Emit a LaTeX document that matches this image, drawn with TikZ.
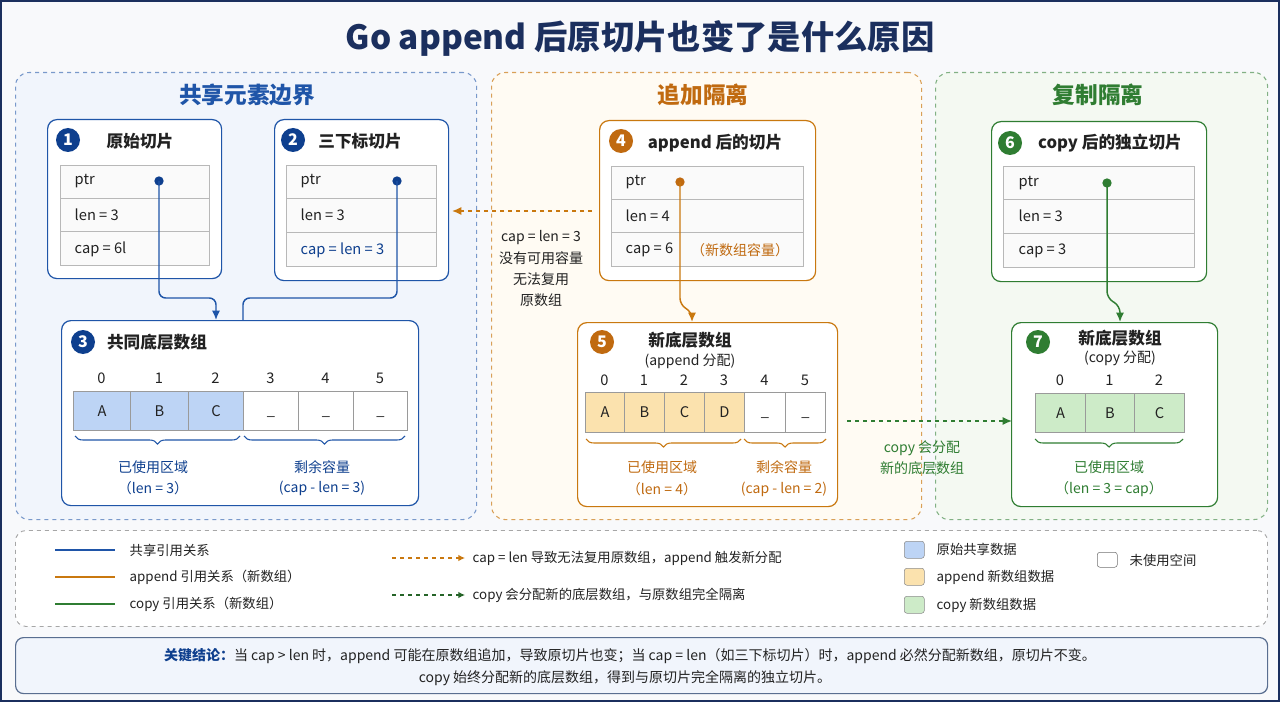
\documentclass[tikz,border=0pt]{standalone}
\usepackage{fontspec}
\setmainfont{Noto Sans CJK SC}
\usetikzlibrary{decorations.pathreplacing,arrows.meta}
\definecolor{bg}{HTML}{F8F9FB}
\definecolor{navy}{HTML}{1B2F5E}
\definecolor{bl}{HTML}{1F55A8}
\definecolor{bld}{HTML}{0E3F8E}
\definecolor{blf}{HTML}{F1F5FC}
\definecolor{blc}{HTML}{BDD4F5}
\definecolor{or}{HTML}{C9780F}
\definecolor{ord}{HTML}{C06A10}
\definecolor{orf}{HTML}{FFFBF3}
\definecolor{orc}{HTML}{FBE2AE}
\definecolor{gr}{HTML}{2F7D32}
\definecolor{grf}{HTML}{F4F9F2}
\definecolor{grc}{HTML}{CDEBC8}
\definecolor{txt}{HTML}{222222}
\definecolor{cellb}{HTML}{9A9A9A}
\newcommand\pbox[6]{\node[#6,inner sep=0pt,anchor=north west,minimum width={(#4-#2)*0.75pt},minimum height={(#5-#3)*0.75pt}] (#1) at (#2,#3) {};}
\tikzset{
 panel/.style={draw=#1,dashed,line width=0.8pt,rounded corners=10pt},
 card/.style={draw=#1,line width=0.9pt,rounded corners=7pt,fill=white},
 row/.style={draw=cellb!70,fill=black!2,line width=0.7pt},
 cell/.style={draw=cellb,line width=0.8pt},
 num/.style={circle,fill=#1,text=white,font=\bfseries\fontsize{12}{12}\selectfont,inner sep=0pt,minimum size=18pt},
 ttl/.style={font=\bfseries\fontsize{12.5}{14}\selectfont,text=txt},
 ptitle/.style={font=\bfseries\fontsize{17}{18}\selectfont,text=#1},
 t/.style={font=\fontsize{11}{12}\selectfont,text=txt,anchor=west},
 c/.style={font=\fontsize{11}{13}\selectfont,text=txt},
 s/.style={font=\fontsize{10.5}{12}\selectfont,text=#1},
 dot/.style={circle,fill=#1,inner sep=0pt,minimum size=7pt},
 brc/.style={draw=#1,line width=0.8pt,decorate,decoration={brace,mirror,amplitude=6pt}},
 lg/.style={font=\fontsize{10}{11}\selectfont,text=txt,anchor=west},
}
\begin{document}
\begin{tikzpicture}[x=0.75pt,y=-0.75pt]
\useasboundingbox (0,0) rectangle (1280,702);
\fill[bg] (0,0) rectangle (1280,702);
\draw[navy,line width=2pt] (1,1) rectangle (1279,701);
\node[font=\bfseries\fontsize{25}{26}\selectfont,text=navy] (title) at (640,38) {Go append 后原切片也变了是什么原因};

% panels
\pbox{p1}{15}{72}{476}{519}{panel=bl!60,fill=blf}
\pbox{p2}{491}{72}{921}{519}{panel=or!70,fill=orf}
\pbox{p3}{935}{72}{1267}{519}{panel=gr!60,fill=grf}
\node[ptitle=bl] (p1t) at (247,95) {共享元素边界};
\node[ptitle=ord] (p2t) at (703,95) {追加隔离};
\node[ptitle=gr] (p3t) at (1098,95) {复制隔离};

% box 1
\pbox{b1}{47}{119}{221}{278}{card=bl}
\node[num=bld] (n1) at (68,140) {1};
\node[ttl] (b1t) at (140,141) {原始切片};
\pbox{r11}{60}{165}{209}{198}{row}
\pbox{r12}{60}{198}{209}{231}{row}
\pbox{r13}{60}{231}{209}{265}{row}
\node[t] at (70,181) {ptr};
\node[t] at (70,215) {len = 3};
\node[t] at (70,249) {cap = 6l};
\node[dot=bld] (d1) at (159,181) {};

% box 2
\pbox{b2}{274}{119}{448}{280}{card=bl}
\node[num=bld] (n2) at (293,140) {2};
\node[ttl] (b2t) at (360,141) {三下标切片};
\pbox{r21}{286}{165}{436}{198}{row}
\pbox{r22}{286}{198}{436}{232}{row}
\pbox{r23}{286}{232}{436}{266}{row}
\node[t] at (296,181) {ptr};
\node[t] at (296,215) {len = 3};
\node[t,text=bld] at (296,250) {cap = len = 3};
\node[dot=bld] (d2) at (397,181) {};

% box 3
\pbox{b3}{61}{320}{418}{505}{card=bl}
\node[num=bld] (n3) at (83,342) {3};
\node[ttl] (b3t) at (157,342) {共同底层数组};
\foreach \a/\b/\l/\i [count=\k] in {73/130/A/0,130/188/B/1,188/243/C/2}{
 \pbox{a\k}{\a}{391}{\b}{430}{cell,fill=blc}
 \node[c] at (a\k) {\l};
 \node[c] at ({(\a+\b)/2},378) {\i};}
\foreach \a/\b/\i [count=\k from 4] in {243/298/3,298/353/4,353/407/5}{
 \pbox{a\k}{\a}{391}{\b}{430}{cell,fill=white}
 \node[c] at ([yshift=-4pt]a\k) {\_};
 \node[c] at ({(\a+\b)/2},378) {\i};}
\draw[brc=bl] (75,436) -- (240,436);
\draw[brc=bl] (244,436) -- (405,436);
\node[s=bld] at (153,467) {已使用区域};
\node[s=bld] at (153,488) {（len = 3）};
\node[s=bld] at (322,467) {剩余容量};
\node[s=bld] at (322,488) {(cap - len = 3)};

\coordinate (e1) at (216,320);
\coordinate (e2) at (243,320);
\draw[bl,line width=1.1pt,rounded corners=5pt,-{Latex[length=7pt,width=6pt]}] (d1.center) |- (216,298) -- (e1);
\draw[bl,line width=1.1pt,rounded corners=5pt] (d2.center) |- (243,298) -- (e2);

% orange dashed arrow
\coordinate (oa) at (592,211);
\coordinate (ob) at (452,211);
\draw[or,dashed,line width=1.1pt,-{Latex[length=7pt,width=6pt]}] (oa) -- (ob);
\node[s=txt,align=center,font=\fontsize{10.5}{16}\selectfont] (olab) at (541,269) {cap = len = 3\\没有可用容量\\无法复用\\原数组};

% box 4
\pbox{b4}{599}{120}{815}{280}{card=or}
\node[num=ord] (n4) at (621,141) {4};
\node[ttl] (b4t) at (715,143) {append 后的切片};
\pbox{r41}{611}{166}{803}{199}{row}
\pbox{r42}{611}{199}{803}{232}{row}
\pbox{r43}{611}{232}{803}{266}{row}
\node[t] at (621,182) {ptr};
\node[t] at (621,216) {len = 4};
\node[t] at (621,250) {cap = 6};
\node[s=ord] at (740,250) {（新数组容量）};
\node[dot=ord] (d4) at (680,182) {};

% box 5
\pbox{b5}{577}{322}{837}{506}{card=or}
\node[num=ord] (n5) at (602,342) {5};
\node[ttl] (b5t) at (690,340) {新底层数组};
\node[s=txt] at (690,361) {(append 分配)};
\foreach \a/\b/\l/\i [count=\k] in {585/624/A/0,624/664/B/1,664/704/C/2,704/744/D/3}{
 \pbox{c\k}{\a}{392}{\b}{432}{cell,fill=orc}
 \node[c] at (c\k) {\l};
 \node[c] at ({(\a+\b)/2},380) {\i};}
\foreach \a/\b/\i [count=\k from 5] in {744/785/4,785/825/5}{
 \pbox{c\k}{\a}{392}{\b}{432}{cell,fill=white}
 \node[c] at ([yshift=-4pt]c\k) {\_};
 \node[c] at ({(\a+\b)/2},380) {\i};}
\draw[brc=or] (586,439) -- (741,439);
\draw[brc=or] (744,439) -- (826,439);
\node[s=ord] at (662,467) {已使用区域};
\node[s=ord] at (662,489) {（len = 4）};
\node[s=ord] at (784,467) {剩余容量};
\node[s=ord] at (784,489) {(cap - len = 2)};
\coordinate (e4) at (692,322);
\draw[or,line width=1.1pt,rounded corners=5pt,-{Latex[length=7pt,width=6pt]}] (d4.center) -- (680,305) -- (692,312) -- (e4);

% green dashed arrow
\coordinate (ga) at (847,421);
\coordinate (gb) at (1012,421);
\draw[gr,dashed,line width=1.1pt,-{Latex[length=7pt,width=6pt]}] (ga) -- (gb);
\node[s=gr,align=center,font=\fontsize{10.5}{16}\selectfont] (glab) at (922,458) {copy 会分配\\新的底层数组};

% box 6
\pbox{b6}{991}{121}{1206}{281}{card=gr}
\node[num=gr] (n6) at (1010,143) {6};
\node[ttl] (b6t) at (1110,143) {copy 后的独立切片};
\pbox{r61}{1003}{166}{1194}{199}{row}
\pbox{r62}{1003}{199}{1194}{233}{row}
\pbox{r63}{1003}{233}{1194}{267}{row}
\node[t] at (1014,183) {ptr};
\node[t] at (1014,216) {len = 3};
\node[t] at (1014,251) {cap = 3};
\node[dot=gr] (d6) at (1107,183) {};

% box 7
\pbox{b7}{1011}{322}{1217}{506}{card=gr}
\node[num=gr] (n7) at (1038,342) {7};
\node[ttl] (b7t) at (1120,338) {新底层数组};
\node[s=txt] at (1120,358) {(copy 分配)};
\foreach \a/\b/\l/\i [count=\k] in {1035/1085/A/0,1085/1134/B/1,1134/1184/C/2}{
 \pbox{g\k}{\a}{393}{\b}{432}{cell,fill=grc}
 \node[c] at (g\k) {\l};
 \node[c] at ({(\a+\b)/2},380) {\i};}
\draw[brc=gr] (1035,439) -- (1183,439);
\node[s=gr] at (1109,467) {已使用区域};
\node[s=gr] at (1109,489) {（len = 3 = cap）};
\coordinate (e6) at (1120,322);
\draw[gr,line width=1.1pt,rounded corners=5pt,-{Latex[length=7pt,width=6pt]}] (d6.center) -- (1107,298) -- (1120,306) -- (e6);

% legend
\pbox{leg}{15}{530}{1267}{626}{draw=black!35,dashed,line width=0.7pt,rounded corners=8pt,fill=white}
\draw[bl,line width=1.6pt] (55,550) -- (115,550) coordinate (l1);
\node[lg] at (125,550) {共享引用关系};
\draw[or,line width=1.6pt] (55,577) -- (115,577);
\node[lg] at (125,577) {append 引用关系（新数组）};
\draw[gr,line width=1.6pt] (55,604) -- (115,604);
\node[lg] at (125,604) {copy 引用关系（新数组）};
\draw[or,dashed,line width=1.2pt,-{Latex[length=5pt,width=5pt]}] (392,558) -- (465,558);
\node[lg] at (468,558) {cap = len 导致无法复用原数组，append 触发新分配};
\draw[gr!80!black,dashed,line width=1.2pt,-{Latex[length=5pt,width=5pt]}] (392,595) -- (465,595);
\node[lg] at (468,595) {copy 会分配新的底层数组，与原数组完全隔离};
\pbox{sw1}{904}{541}{924}{558}{draw=black!45,fill=blc,rounded corners=2pt}
\node[lg] at (932,549) {原始共享数据};
\pbox{sw2}{904}{568}{924}{585}{draw=black!45,fill=orc,rounded corners=2pt}
\node[lg] at (932,577) {append 新数组数据};
\pbox{sw3}{904}{596}{924}{613}{draw=black!45,fill=grc,rounded corners=2pt}
\node[lg] at (932,605) {copy 新数组数据};
\pbox{sw4}{1097}{552}{1117}{567}{draw=black!55,fill=white,rounded corners=2pt}
\node[lg] at (1125,560) {未使用空间};

% conclusion
\pbox{con}{15}{637}{1267}{693}{draw=bl!40!gray,line width=0.9pt,rounded corners=6pt,fill=blf}
\node[font=\fontsize{10.5}{12}\selectfont,text=txt] (c1) at (630,656) {\textbf{\textcolor{bld}{关键结论：}}当 cap > len 时，append 可能在原数组追加，导致原切片也变；当 cap = len（如三下标切片）时，append 必然分配新数组，原切片不变。};
\node[font=\fontsize{10.5}{12}\selectfont,text=txt] (c2) at (625,678) {copy 始终分配新的底层数组，得到与原切片完全隔离的独立切片。};
\end{tikzpicture}
\end{document}
